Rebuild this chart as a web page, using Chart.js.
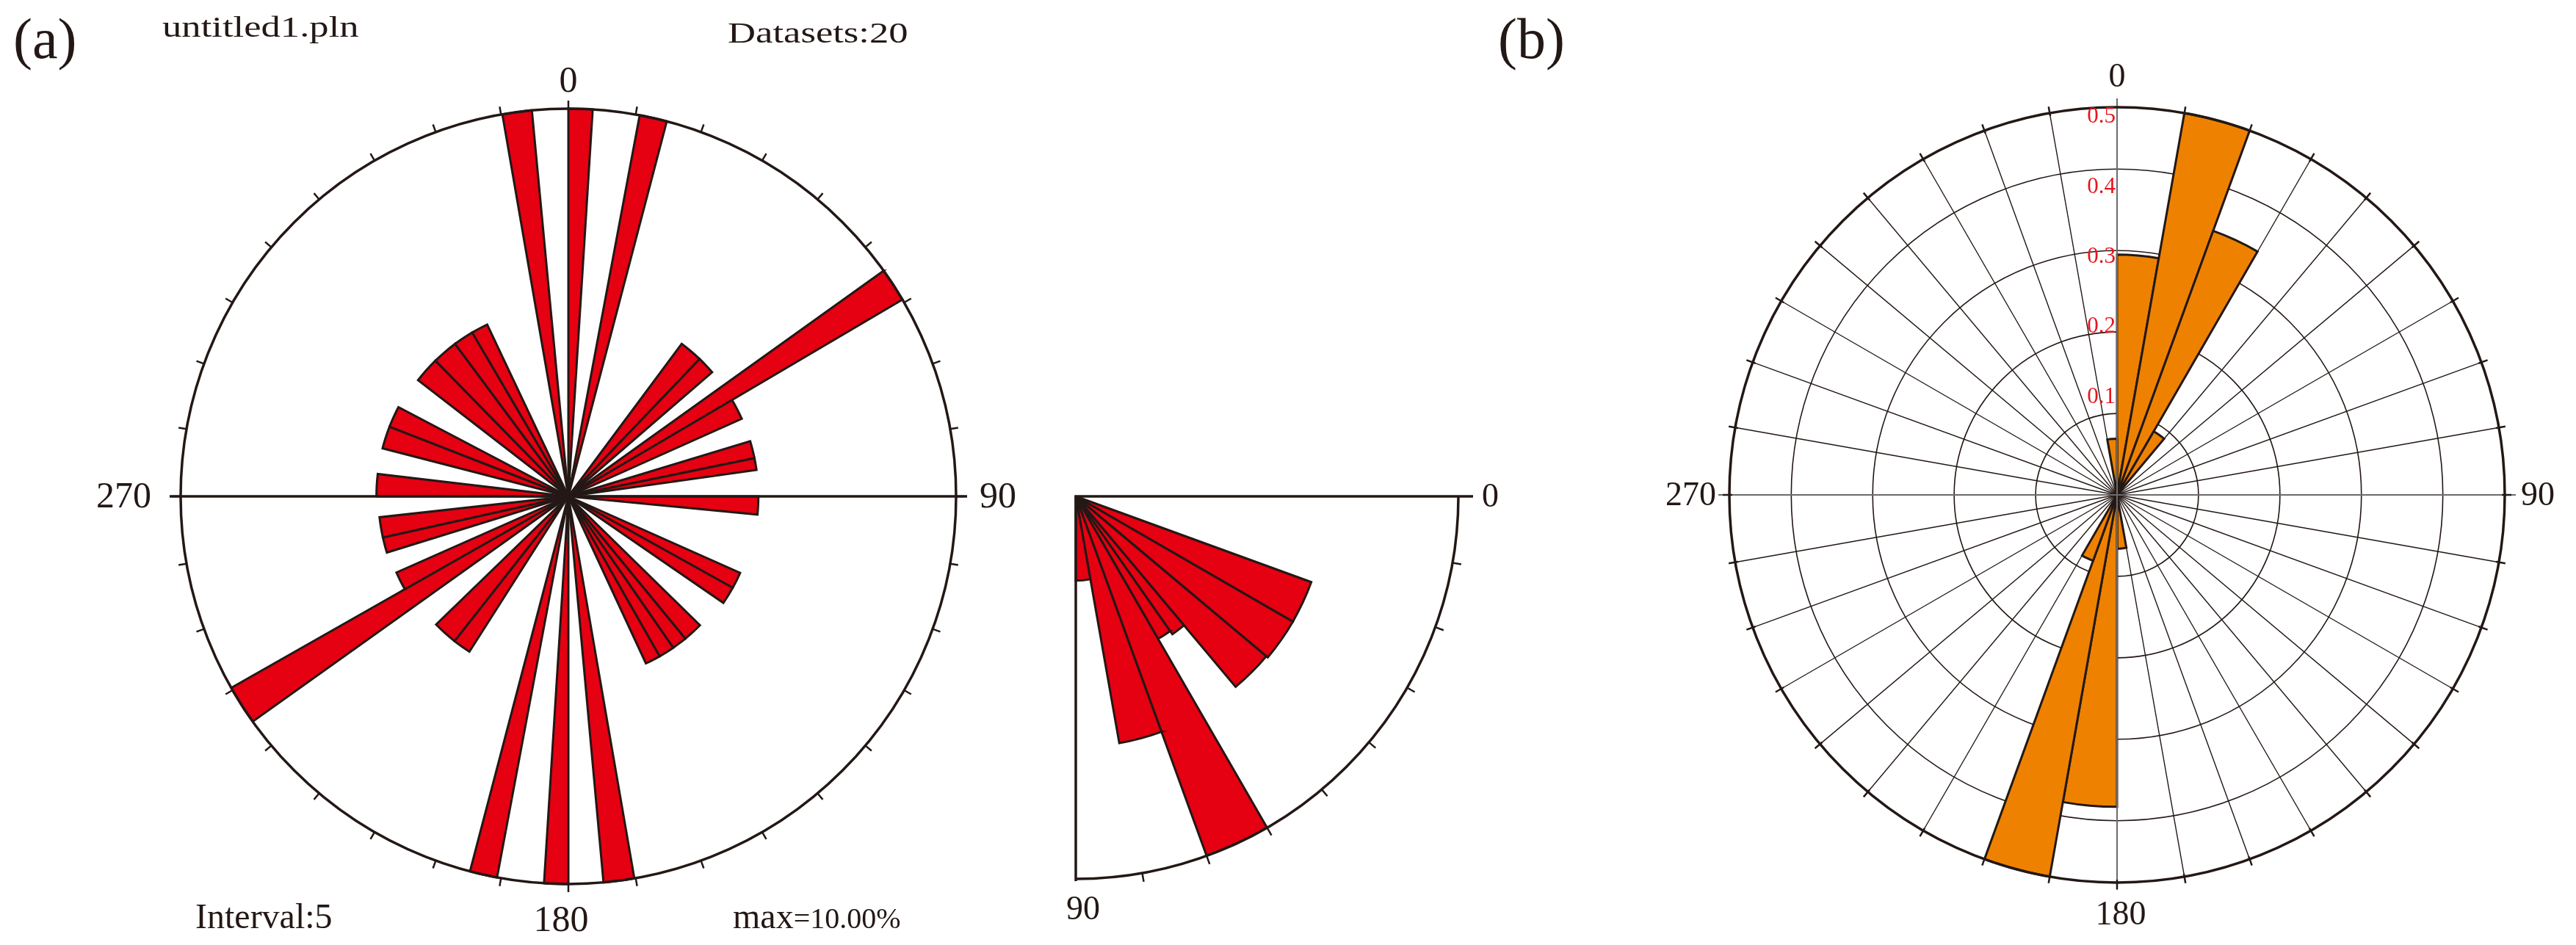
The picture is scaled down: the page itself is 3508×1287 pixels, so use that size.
<!DOCTYPE html>
<html>
<head>
<meta charset="utf-8">
<script src="https://cdn.jsdelivr.net/npm/chart.js@4.4.1/dist/chart.umd.min.js"></script>
<style>
  html, body { margin: 0; padding: 0; background: #fff; }
  #wrap { position: relative; width: 3508px; height: 1287px; overflow: hidden; background: #fff; }
  canvas { position: absolute; left: 0; top: 0; }
  .t { position: absolute; font-family: "Liberation Serif", "Times New Roman", serif; color: #231815; white-space: nowrap; line-height: 1; }
  .wide { transform: scaleX(1.35); transform-origin: 0 0; }
</style>
</head>
<body>
<div id="wrap">
  <canvas id="chartA" width="3508" height="1287"></canvas>
  <canvas id="chartC" width="3508" height="1287"></canvas>
  <canvas id="chartB" width="3508" height="1287"></canvas>
  <div class="t" style="left:18px;top:14px;font-size:78px;">(a)</div>
  <div class="t wide" style="left:221px;top:17px;font-size:39px;">untitled1.pln</div>
  <div class="t wide" style="left:991px;top:25px;font-size:39px;">Datasets:20</div>
  <div class="t" style="left:266px;top:1224px;font-size:48px;">Interval:5</div>
  <div class="t" style="left:998px;top:1224px;font-size:48px;">max<span style="font-size:40px;">=10.00%</span></div>
  <div class="t" style="left:2040px;top:14px;font-size:78px;">(b)</div>
</div>
<script>
// ---------------- DATA ----------------
// (a) strike rose diagram (interval 5, max = 10 %), petals
const petalFromA = [0, 10.6, 36.6, 43.7, 54.4, 59.5, 73.1, 78.4, 90, 114, 119.1, 134.4, 140.6, 145.3, 150.3, 170.2,
                    180, 190.6, 212.5, 218.2, 234.5, 240.4, 252.8, 257.5, 270, 284.5, 291.3, 307.7, 315.6, 323.4, 329.6, 350.2];
const petalToA   = [3.6, 14.7, 43.7, 49.2, 59.5, 65.9, 78.4, 82.0, 95.5, 119.1, 124.5, 140.6, 145.3, 150.3, 155.1, 174.8,
                    183.6, 194.7, 218.2, 225.9, 240.4, 246.1, 257.5, 263.7, 276.7, 291.3, 297.7, 315.6, 323.4, 329.6, 334.7, 354.6];
const petalPctA  = [10, 10, 4.9, 4.9, 10, 4.9, 4.9, 4.9, 4.9, 4.85, 4.85, 4.75, 4.75, 4.75, 4.75, 10,
                    10, 10, 4.75, 4.75, 10, 4.85, 4.9, 4.9, 4.95, 4.95, 4.95, 4.9, 4.9, 4.9, 4.9, 10];
const maxPctA = 10;
const compassLabelsA = ['0', '90', '180', '270'];

// middle: dip-angle quarter rose (0 - 90)
const dipFrom  = [20, 30, 40, 50, 55, 60, 70, 80];
const dipTo    = [30, 40, 50, 55, 60, 70, 80, 90];
const dipFreq  = [0.655, 0.655, 0.65, 0.44, 0.43, 1.0, 0.655, 0.22];
const dipMax = 1.0;
const dipLabels = ['0', '90'];

// (b) rose diagram with 10 degree bins
const binsB = ['0-10','10-20','20-30','30-40','40-50','50-60','60-70','70-80','80-90',
               '90-100','100-110','110-120','120-130','130-140','140-150','150-160','160-170','170-180',
               '180-190','190-200','200-210','210-220','220-230','230-240','240-250','250-260','260-270',
               '270-280','280-290','290-300','300-310','310-320','320-330','330-340','340-350','350-360'];
const freqB = [0.295, 0.476, 0.345, 0.09, 0, 0, 0, 0, 0,
               0, 0, 0, 0, 0, 0, 0, 0, 0.066,
               0.383, 0.476, 0.086, 0, 0, 0, 0, 0, 0,
               0, 0, 0, 0, 0, 0, 0, 0, 0.069];
const maxB = 0.476;
const ringsB = [0, 0.1, 0.2, 0.3, 0.4];
const ringLabelsB = ['0.1', '0.2', '0.3', '0.4', '0.5'];
const compassLabelsB = ['0', '90', '180', '270'];

// ---------------- STYLE ----------------
const INK = '#231815';
const RED = '#e50012';
const ORANGE = '#ee8200';
const SERIF = '"Liberation Serif", "Times New Roman", serif';

// build contiguous segments (petals + empty gaps) for a polar area chart with per-segment angles
function buildSegments(from, to, values, start, end) {
  const order = from.map((_, i) => i).sort((a, b) => from[a] - from[b]);
  const vals = [], widths = [];
  let cur = start;
  for (const i of order) {
    if (from[i] > cur + 1e-6) { vals.push(0); widths.push(from[i] - cur); }
    vals.push(values[i]); widths.push(to[i] - from[i]);
    cur = to[i];
  }
  if (end > cur + 1e-6) { vals.push(0); widths.push(end - cur); }
  return { vals, widths };
}

const segA = buildSegments(petalFromA, petalToA, petalPctA, 0, 360);
const segC = buildSegments(dipFrom, dipTo, dipFreq, 0, 360);

function rad(deg) { return deg * Math.PI / 180; }
// compass angle (0 = up, clockwise) -> canvas point
function polar(xc, yc, deg, r) { const t = rad(deg - 90); return [xc + Math.cos(t) * r, yc + Math.sin(t) * r]; }

function drawTicks(ctx, xc, yc, R, fromDeg, toDeg, step, rIn, rOut, width) {
  ctx.lineWidth = width;
  for (let a = fromDeg; a <= toDeg + 1e-6; a += step) {
    const p1 = polar(xc, yc, a, R - rIn), p2 = polar(xc, yc, a, R + rOut);
    ctx.beginPath(); ctx.moveTo(p1[0], p1[1]); ctx.lineTo(p2[0], p2[1]); ctx.stroke();
  }
}

const frameA = {
  id: 'frameA',
  afterDatasetsDraw(chart) {
    const s = chart.scales.r, ctx = chart.ctx;
    const xc = s.xCenter, yc = s.yCenter, R = s.drawingArea;
    ctx.save();
    ctx.strokeStyle = INK;
    ctx.lineWidth = 3.5;
    ctx.beginPath(); ctx.arc(xc, yc, R, 0, Math.PI * 2); ctx.stroke();
    ctx.beginPath(); ctx.moveTo(xc - R - 15, yc); ctx.lineTo(xc + R + 15, yc); ctx.stroke();
    drawTicks(ctx, xc, yc, R, 0, 350, 10, 0, 11, 2.5);
    ctx.fillStyle = INK;
    ctx.font = '50px ' + SERIF;
    ctx.textAlign = 'center'; ctx.textBaseline = 'alphabetic';
    ctx.fillText(compassLabelsA[0], xc, yc - R - 23);
    ctx.textBaseline = 'top';
    ctx.fillText(compassLabelsA[2], xc - 10, yc + R + 26);
    ctx.textBaseline = 'middle';
    ctx.textAlign = 'left';
    ctx.fillText(compassLabelsA[1], xc + R + 32, yc + 2);
    ctx.textAlign = 'right';
    ctx.fillText(compassLabelsA[3], xc - R - 40, yc + 2);
    ctx.restore();
  }
};

const frameC = {
  id: 'frameC',
  afterDatasetsDraw(chart) {
    const s = chart.scales.r, ctx = chart.ctx;
    const xc = s.xCenter, yc = s.yCenter, R = s.drawingArea;
    ctx.save();
    ctx.strokeStyle = INK;
    ctx.lineWidth = 3.5;
    ctx.beginPath(); ctx.arc(xc, yc, R, 0, Math.PI / 2); ctx.stroke();
    ctx.beginPath(); ctx.moveTo(xc + R + 20, yc); ctx.lineTo(xc, yc); ctx.lineTo(xc, yc + R + 3); ctx.stroke();
    drawTicks(ctx, xc, yc, R, 100, 170, 10, 0, 12, 2.5);
    ctx.fillStyle = INK;
    ctx.font = '46px ' + SERIF;
    ctx.textAlign = 'left'; ctx.textBaseline = 'middle';
    ctx.fillText(dipLabels[0], xc + R + 32, yc + 2);
    ctx.textAlign = 'center'; ctx.textBaseline = 'top';
    ctx.fillText(dipLabels[1], xc + 10, yc + R + 20);
    ctx.restore();
  }
};

const frameB = {
  id: 'frameB',
  afterDatasetsDraw(chart) {
    const s = chart.scales.r, ctx = chart.ctx;
    const xc = s.xCenter, yc = s.yCenter, R = s.drawingArea;
    ctx.save();
    // grey axis lines
    ctx.strokeStyle = '#6b6b6b';
    ctx.lineWidth = 2;
    ctx.beginPath(); ctx.moveTo(xc - R - 15, yc); ctx.lineTo(xc + R + 15, yc); ctx.stroke();
    ctx.beginPath(); ctx.moveTo(xc, yc - R - 12); ctx.lineTo(xc, yc + R + 10); ctx.stroke();
    // outer circle and ticks
    ctx.strokeStyle = INK;
    ctx.lineWidth = 3.5;
    ctx.beginPath(); ctx.arc(xc, yc, R, 0, Math.PI * 2); ctx.stroke();
    drawTicks(ctx, xc, yc, R, 10, 350, 10, 4, 9, 2.5);
    // ring labels
    ctx.fillStyle = '#e8141c';
    ctx.font = '31px ' + SERIF;
    ctx.textAlign = 'right'; ctx.textBaseline = 'middle';
    ringLabelsB.forEach((lab) => {
      const d = s.getDistanceFromCenterForValue(parseFloat(lab));
      ctx.fillText(lab, xc - 2, yc - (d * 0.86 + 38));
    });
    // compass labels
    ctx.fillStyle = INK;
    ctx.font = '46px ' + SERIF;
    ctx.textAlign = 'center'; ctx.textBaseline = 'alphabetic';
    ctx.fillText(compassLabelsB[0], xc, yc - R - 28);
    ctx.textBaseline = 'top';
    ctx.fillText(compassLabelsB[2], xc + 5, yc + R + 22);
    ctx.textBaseline = 'middle';
    ctx.textAlign = 'left';
    ctx.fillText(compassLabelsB[1], xc + R + 22, yc + 2);
    ctx.textAlign = 'right';
    ctx.fillText(compassLabelsB[3], xc - R - 18, yc + 2);
    ctx.restore();
  }
};

function pad(cx, cy, R) {
  return { left: cx - R, top: cy - R, right: 3508 - (cx + R), bottom: 1287 - (cy + R) };
}

const common = {
  responsive: false,
  animation: false,
  devicePixelRatio: 1,
  events: [],
  plugins: { legend: { display: false }, tooltip: { enabled: false } }
};

// (a)
new Chart(document.getElementById('chartA'), {
  type: 'polarArea',
  data: {
    labels: segA.vals.map((_, i) => 'seg' + i),
    datasets: [{
      data: segA.vals,
      angle: (c) => segA.widths[c.dataIndex],
      backgroundColor: RED,
      borderColor: INK,
      borderWidth: (c) => (c.raw > 0 ? 3 : 0),
      borderJoinStyle: 'miter'
    }]
  },
  options: Object.assign({}, common, {
    layout: { padding: pad(774, 676, 528) },
    scales: { r: { min: 0, max: maxPctA, startAngle: 0,
      ticks: { display: false }, grid: { display: false },
      angleLines: { display: false }, pointLabels: { display: false } } }
  }),
  plugins: [frameA]
});

// middle quarter rose
new Chart(document.getElementById('chartC'), {
  type: 'polarArea',
  data: {
    labels: segC.vals.map((_, i) => 'seg' + i),
    datasets: [{
      data: segC.vals,
      angle: (c) => segC.widths[c.dataIndex],
      backgroundColor: RED,
      borderColor: INK,
      borderWidth: (c) => (c.raw > 0 ? 3 : 0),
      borderJoinStyle: 'miter'
    }]
  },
  options: Object.assign({}, common, {
    layout: { padding: pad(1465, 676, 521) },
    scales: { r: { min: 0, max: dipMax, startAngle: 90,
      ticks: { display: false }, grid: { display: false },
      angleLines: { display: false }, pointLabels: { display: false } } }
  }),
  plugins: [frameC]
});

// (b)
new Chart(document.getElementById('chartB'), {
  type: 'polarArea',
  data: {
    labels: binsB,
    datasets: [{
      data: freqB,
      backgroundColor: ORANGE,
      borderColor: INK,
      borderWidth: (c) => (c.raw > 0 ? 3 : 0),
      borderJoinStyle: 'miter'
    }]
  },
  options: Object.assign({}, common, {
    layout: { padding: pad(2883, 674, 528) },
    scales: { r: { min: 0, max: maxB, startAngle: 0,
      afterBuildTicks: (sc) => { sc.ticks = ringsB.map((v) => ({ value: v })); },
      ticks: { display: false },
      grid: { display: true, circular: true, color: INK, lineWidth: 1.6 },
      angleLines: { display: true, lineWidth: 1.4,
        color: (c) => (c.index % 9 === 0 ? 'rgba(0,0,0,0)' : INK) },
      pointLabels: { display: false } } }
  }),
  plugins: [frameB]
});
</script>
</body>
</html>
